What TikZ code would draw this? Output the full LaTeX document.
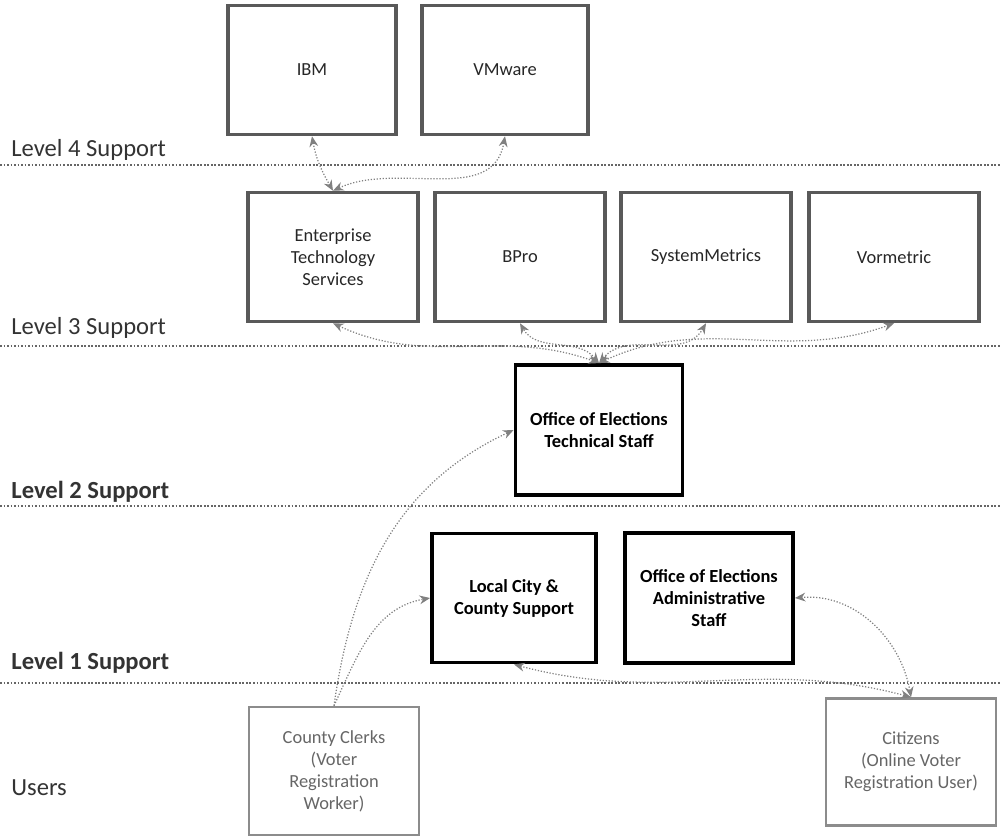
\documentclass[tikz,border=0pt]{standalone}
\usepackage{fontspec}
\setmainfont{Carlito}
\usetikzlibrary{arrows.meta}
\tikzset{
    vendor/.style={draw=black!65, line width=2pt, minimum width=3.4cm,
        minimum height=2.58cm, align=center, text=black!85,
        font=\fontsize{10.5}{12.5}\selectfont},
    staff/.style={draw=black, line width=2.2pt, minimum width=3.34cm,
        minimum height=2.6cm, align=center,
        font=\fontsize{10.5}{12.5}\selectfont\bfseries},
    user/.style={draw=black!45, line width=1.5pt, minimum width=3.4cm,
        minimum height=2.56cm, align=center, text=black!60,
        font=\fontsize{10.5}{12.5}\selectfont},
    level/.style={anchor=west, inner sep=0pt, text=black!80,
        font=\fontsize{14}{16}\selectfont},
    divider/.style={densely dotted, black!60, line width=1pt},
    link/.style={densely dotted, black!50, line width=0.7pt},
    >={Stealth[length=6pt,width=5pt]}
}
\begin{document}
\begin{tikzpicture}[x=0.02cm, y=-0.02cm]
        \useasboundingbox (0,0) rectangle (1000,838);
        %% Support levels
        \node[level] (lvfour) at (11,150) {Level 4 Support};
        \node[level] (lvthree) at (11,328) {Level 3 Support};
        \node[level, font=\fontsize{14}{16}\selectfont\bfseries] (lvtwo) at (11,492) {Level 2 Support};
        \node[level, font=\fontsize{14}{16}\selectfont\bfseries] (lvone) at (11,663) {Level 1 Support};
        \node[level] (users) at (11,788) {Users};
        \draw[divider] (0,165) -- (1000,165);
        \draw[divider] (0,346) -- (1000,346);
        \draw[divider] (0,506) -- (1000,506);
        \draw[divider] (0,683) -- (1000,683);
        %% Level 4
        \node[vendor, minimum width=3.36cm] (ibm) at (312,70) {IBM};
        \node[vendor, minimum width=3.32cm] (vmware) at (505,70) {VMware};
        %% Level 3
        \node[vendor] (ets) at (333,257) {Enterprise\\Technology\\Services};
        \node[vendor] (bpro) at (520,257) {BPro};
        \node[vendor] (sysmet) at (706,257) {SystemMetrics};
        \node[vendor] (vormet) at (894,257) {Vormetric};
        %% Level 2
        \node[staff] (techstaff) at (599,430) {Office of Elections\\Technical Staff};
        %% Level 1
        \node[staff, minimum width=3.28cm, minimum height=2.58cm] (localsup) at (514,598)
            {Local City \&\\County Support};
        \node[staff, minimum width=3.36cm] (adminstaff) at (709,598)
            {Office of Elections\\Administrative\\Staff};
        %% Users
        \node[user] (clerks) at (334,771) {County Clerks\\(Voter\\Registration\\Worker)};
        \node[user, minimum height=2.54cm] (citizens) at (911,762)
            {Citizens\\(Online Voter\\Registration User)};
        %% Links
        \draw[link,<->] (ibm.south) to[out=-80,in=120] (ets.north);
        \draw[link,<->] (vmware.south) to[out=-100,in=25] (ets.north);
        \draw[link,<->] (techstaff.north) to[out=160,in=-25] (ets.south);
        \draw[link,<->] (techstaff.north) to[out=130,in=-60] (bpro.south);
        \draw[link,<->] (techstaff.north) to[out=50,in=-120] (sysmet.south);
        \draw[link,<->] (techstaff.north) to[out=25,in=-160] (vormet.south);
        \draw[link,->] (clerks.north) to[out=82,in=205] (techstaff.west);
        \draw[link,->] (clerks.north) to[out=65,in=190] (localsup.west);
        \draw[link,<->] (localsup.south) to[out=-15,in=165] (citizens.north);
        \draw[link,<->] (citizens.north) to[out=100,in=5] (adminstaff.east);
    \end{tikzpicture}
\end{document}
